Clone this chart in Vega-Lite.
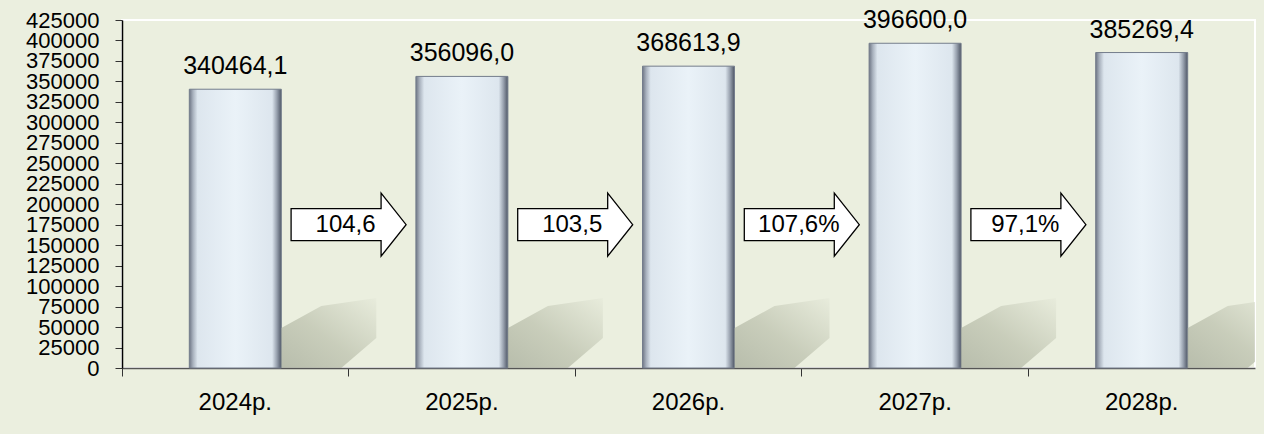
{
  "$schema": "https://vega.github.io/schema/vega-lite/v6.json",
  "width": 1133,
  "height": 348,
  "autosize": {"type": "none"},
  "padding": {"left": 122, "top": 20, "right": 9, "bottom": 66},
  "background": "#ebefdf",
  "config": {
    "view": {"stroke": "#ffffff", "strokeWidth": 2},
    "font": "Liberation Sans",
    "axisX": {
      "title": null,
      "labelAngle": 0,
      "labelFontSize": 24,
      "labelColor": "#000000",
      "labelPadding": 14,
      "domainColor": "#555555",
      "domainWidth": 1.5,
      "tickColor": "#333333",
      "tickSize": 8,
      "bandPosition": 0,
      "grid": false
    },
    "axisY": {
      "title": null,
      "labelFontSize": 22,
      "labelColor": "#000000",
      "labelOverlap": false,
      "labelPadding": 16,
      "labelBound": false,
      "labelFlush": false,
      "domainColor": "#000000",
      "domainWidth": 1.5,
      "tickColor": "#333333",
      "tickSize": 7,
      "grid": false
    }
  },
  "datasets": {
    "bars": [
      {"year": "2024р.", "value": 340464.1, "label": "340464,1"},
      {"year": "2025р.", "value": 356096.0, "label": "356096,0"},
      {"year": "2026р.", "value": 368613.9, "label": "368613,9"},
      {"year": "2027р.", "value": 396600.0, "label": "396600,0"},
      {"year": "2028р.", "value": 385269.4, "label": "385269,4"}
    ],
    "arrows": [
      {"year": "2024р.", "label": "104,6"},
      {"year": "2025р.", "label": "103,5"},
      {"year": "2026р.", "label": "107,6%"},
      {"year": "2027р.", "label": "97,1%"}
    ]
  },
  "layer": [
    {
      "data": {"name": "bars"},
      "mark": {
        "type": "bar",
        "width": {"band": 0.406},
        "stroke": "#747d8c",
        "strokeWidth": 1,
        "fill": {
          "gradient": "linear",
          "x1": 0, "y1": 0, "x2": 1, "y2": 0,
          "stops": [
            {"offset": 0, "color": "#6e7685"},
            {"offset": 0.04, "color": "#a8b1bd"},
            {"offset": 0.09, "color": "#dde6ee"},
            {"offset": 0.5, "color": "#eaf2f8"},
            {"offset": 0.9, "color": "#dde6ee"},
            {"offset": 0.95, "color": "#9aa3b0"},
            {"offset": 1, "color": "#4f5766"}
          ]
        }
      },
      "encoding": {
        "x": {
          "field": "year",
          "type": "nominal",
          "scale": {"paddingInner": 0, "paddingOuter": 0}
        },
        "y": {
          "field": "value",
          "type": "quantitative",
          "scale": {"domain": [0, 425000], "nice": false, "zero": true},
          "axis": {
            "values": [0, 25000, 50000, 75000, 100000, 125000, 150000, 175000, 200000, 225000, 250000, 275000, 300000, 325000, 350000, 375000, 400000, 425000],
            "format": "d",
            "labelOverlap": false
          }
        }
      }
    },
    {
      "data": {"name": "bars"},
      "mark": {
        "type": "point",
        "shape": "M 0.46 0 L 0.46 -0.4 L 0.86 -0.62 L 1.41 -0.7 L 1.41 -0.3 L 1.06 0 Z",
        "size": 40000,
        "filled": true,
        "opacity": 0.65,
        "strokeWidth": 0,
        "clip": true,
        "fill": {
          "gradient": "linear",
          "x1": 0, "y1": 1, "x2": 1, "y2": 0,
          "stops": [
            {"offset": 0, "color": "#9ca290"},
            {"offset": 0.45, "color": "#b6bba7"},
            {"offset": 1, "color": "#e6eada"}
          ]
        }
      },
      "encoding": {
        "x": {"field": "year", "type": "nominal"},
        "y": {
          "datum": 0,
          "type": "quantitative",
          "axis": {
            "values": [0, 25000, 50000, 75000, 100000, 125000, 150000, 175000, 200000, 225000, 250000, 275000, 300000, 325000, 350000, 375000, 400000, 425000],
            "format": "d",
            "labelOverlap": false
          }
        }
      }
    },
    {
      "data": {"name": "bars"},
      "mark": {"type": "text", "dy": -15, "baseline": "alphabetic", "fontSize": 25, "color": "#000000"},
      "encoding": {
        "x": {"field": "year", "type": "nominal"},
        "y": {
          "field": "value",
          "type": "quantitative",
          "axis": {
            "values": [0, 25000, 50000, 75000, 100000, 125000, 150000, 175000, 200000, 225000, 250000, 275000, 300000, 325000, 350000, 375000, 400000, 425000],
            "format": "d",
            "labelOverlap": false
          }
        },
        "text": {"field": "label"}
      }
    },
    {
      "data": {"name": "arrows"},
      "mark": {
        "type": "point",
        "shape": "M -1 -0.278 L 0.565 -0.278 L 0.565 -0.548 L 1 0 L 0.565 0.548 L 0.565 0.278 L -1 0.278 Z",
        "size": 13225,
        "filled": true,
        "fill": "#ffffff",
        "stroke": "#000000",
        "strokeWidth": 1.3,
        "opacity": 1
      },
      "encoding": {
        "x": {"field": "year", "type": "nominal", "bandPosition": 1},
        "y": {
          "datum": 175000,
          "type": "quantitative",
          "axis": {
            "values": [0, 25000, 50000, 75000, 100000, 125000, 150000, 175000, 200000, 225000, 250000, 275000, 300000, 325000, 350000, 375000, 400000, 425000],
            "format": "d",
            "labelOverlap": false
          }
        }
      }
    },
    {
      "data": {"name": "arrows"},
      "mark": {"type": "text", "dx": -3, "baseline": "middle", "fontSize": 24, "color": "#000000"},
      "encoding": {
        "x": {"field": "year", "type": "nominal", "bandPosition": 1},
        "y": {
          "datum": 175000,
          "type": "quantitative",
          "axis": {
            "values": [0, 25000, 50000, 75000, 100000, 125000, 150000, 175000, 200000, 225000, 250000, 275000, 300000, 325000, 350000, 375000, 400000, 425000],
            "format": "d",
            "labelOverlap": false
          }
        },
        "text": {"field": "label"}
      }
    }
  ]
}
